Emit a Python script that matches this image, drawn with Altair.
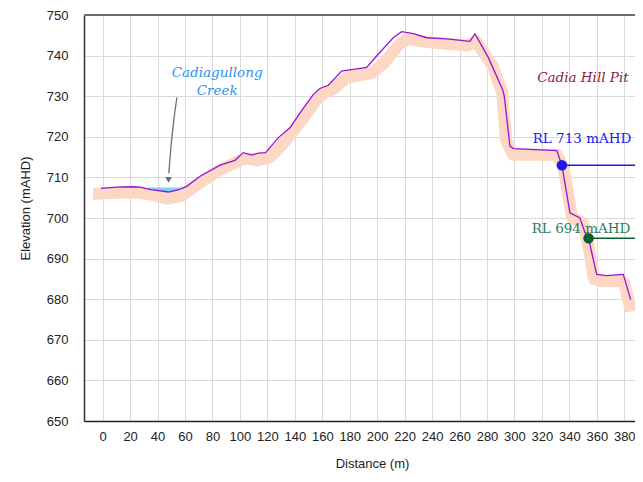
import altair as alt
import pandas as pd

# ---- data ----
dist = [-1.2, 10, 22.3, 27.2, 35, 47.8, 55, 61.2, 71, 85.6, 96.4, 102.4, 108.6, 113.4,
        118.7, 128, 136.5, 143.8, 153.4, 158.3, 164.4, 174.1, 182.6, 192.3, 199.6, 211.7,
        217.8, 226.3, 236, 250.6, 267.6, 271.2, 281, 291.4, 292.6, 296.7, 299.2, 330.8,
        334.6, 340.4, 347.7, 351.4, 354, 359.9, 367.2, 379.3, 384.7]
elev = [707.3, 707.6, 707.7, 707.6, 707.0, 706.4, 706.9, 707.8, 710.3, 713.0, 714.2, 716.1,
        715.5, 716.0, 716.1, 719.8, 722.2, 725.9, 730.4, 731.9, 732.7, 736.2, 736.6, 737.1,
        739.9, 744.4, 745.9, 745.4, 744.4, 744.1, 743.5, 745.4, 739.5, 731.6, 730.0, 717.7,
        717.1, 716.6, 713.0, 701.3, 700.0, 696.4, 695.0, 686.1, 685.8, 686.1, 679.9]

band_dist = [-7, 10, 25, 35, 47, 58, 68, 85, 100, 106, 112, 122, 132, 146, 156, 162, 168,
             178, 196, 206, 216, 222, 240, 266, 272, 284, 291, 294, 299, 331, 336, 342,
             350, 354, 358, 362, 376, 380, 385]
band_elev = [706, 706.2, 706.3, 705.8, 704.8, 705.5, 708, 711.8, 714.2, 714.6, 714.2, 715,
             718.5, 724.5, 729.3, 730.8, 731.8, 734.6, 735.7, 738.5, 742.8, 744, 743.2,
             742.5, 743.5, 737.5, 731, 719, 715.6, 715.6, 712, 700, 698.8, 693, 685,
             684.5, 684.5, 684, 677]

water_dist = [33, 40, 47.8, 55, 60.5]
water_bed = [707.2, 706.8, 706.4, 706.9, 707.4]
water_level = [707.5, 707.5, 707.5, 707.5, 707.5]

arrow_dist = [54.1, 51.8, 49.6, 48.2]
arrow_elev = [729.7, 724.0, 717.0, 711.0]
arrow_tip_dist = [48.0]
arrow_tip_elev = [709.4]

rl_labels = ["RL 713 mAHD", "RL 694 mAHD"]
rl_dist = [334.6, 354.0]
rl_elev = [713.0, 695.0]
rl_end = [400, 400]
rl_label_dist = [349.2, 348.5]
rl_label_elev = [719.4, 697.3]
rl_colors = ["#1a1af0", "#0b5e2e"]
rl_text_colors = ["#2020f0", "#2e7d4f"]

creek_text = ["Cadiagullong", "Creek"]
creek_dist = [83.4, 83.4]
creek_elev = [735.8, 731.2]

pit_text = ["Cadia Hill Pit"]
pit_dist = [349.9]
pit_elev = [734.4]

x_ticks = list(range(0, 381, 20))
y_ticks = list(range(650, 751, 10))

# ---- chart ----
W, H = 551, 406
X_MIN = -13.6
X_MAX = X_MIN + W / 1.3726
xs = alt.Scale(domain=[X_MIN, X_MAX], nice=False, zero=False)
ys = alt.Scale(domain=[650, 750], nice=False, zero=False)

x_axis = alt.Axis(values=x_ticks, format="d", title="Distance (m)", grid=True,
                  ticks=False, labelPadding=9, labelFontSize=13, labelColor="#222",
                  labelFont="Liberation Sans", titleFont="Liberation Sans",
                  titleFontSize=13, titleFontWeight="normal", titleColor="#222",
                  titleX=288, titleY=42, titleBaseline="middle", titleAlign="center",
                  titleAnchor="start",
                  domainColor="#222", domainWidth=1.5, gridColor="#dadada",
                  labelFlush=False, labelOverlap=False)
y_axis = alt.Axis(values=y_ticks, format="d", title="Elevation (mAHD)", grid=True,
                  ticks=False, labelPadding=16, labelFontSize=13, labelColor="#222",
                  labelFont="Liberation Sans", titleFont="Liberation Sans",
                  titleFontSize=13, titleFontWeight="normal", titleColor="#222",
                  titleAngle=270, titleX=-59, titleY=193, titleBaseline="middle",
                  titleAlign="center", titleAnchor="start",
                  domainColor="#333", domainWidth=1.5, gridColor="#dadada",
                  labelFlush=False, labelOverlap=False)

X = alt.X("d:Q", scale=xs, axis=x_axis)
Y = alt.Y("e:Q", scale=ys, axis=y_axis)

band_df = pd.DataFrame({"d": band_dist, "e": band_elev})
prof_df = pd.DataFrame({"d": dist, "e": elev})
water_df = pd.DataFrame({"d": water_dist, "e": water_bed, "e2": water_level})
arrow_df = pd.DataFrame({"d": arrow_dist, "e": arrow_elev})
tip_df = pd.DataFrame({"d": arrow_tip_dist, "e": arrow_tip_elev})
rl_df = pd.DataFrame({"d": rl_dist, "e": rl_elev, "d2": rl_end, "c": rl_colors,
                      "lab": rl_labels, "ld": rl_label_dist, "le": rl_label_elev,
                      "tc": rl_text_colors})
creek_df = pd.DataFrame({"d": creek_dist, "e": creek_elev, "t": creek_text})
pit_df = pd.DataFrame({"d": pit_dist, "e": pit_elev, "t": pit_text})
frame_df = pd.DataFrame({"d": [X_MIN], "d2": [X_MAX], "e": [750]})

frame = alt.Chart(frame_df).mark_rule(color="#6e6e6e", strokeWidth=2).encode(
    x=X, x2="d2:Q", y=Y)

band = alt.Chart(band_df).mark_line(color="#fcd7c4", strokeWidth=12, strokeJoin="round",
                                    strokeCap="butt").encode(x=X, y=Y, order="d:Q")

water = alt.Chart(water_df).mark_area(color="#6fcdf2", opacity=0.9).encode(
    x=X, y=Y, y2="e2:Q")

prof = alt.Chart(prof_df).mark_line(color="#9a12d6", strokeWidth=1.3).encode(
    x=X, y=Y, order="d:Q")

arrow = alt.Chart(arrow_df).mark_line(color="#6f6f6f", strokeWidth=1.3,
                                      interpolate="monotone").encode(x=X, y=Y)
tip = alt.Chart(tip_df).mark_point(shape="triangle-down", filled=True, color="#6f6f6f",
                                   size=45, opacity=1).encode(x=X, y=Y)

rl_lines = alt.Chart(rl_df).mark_rule(strokeWidth=1.6, clip=True).encode(
    x=X, x2="d2:Q", y=Y, color=alt.Color("c:N", scale=None))
rl_pts = alt.Chart(rl_df).mark_circle(size=110, opacity=1).encode(
    x=X, y=Y, color=alt.Color("c:N", scale=None))
rl_text = alt.Chart(rl_df).mark_text(font="DejaVu Serif", fontSize=13.5, align="center",
                                     baseline="middle").encode(
    x=alt.X("ld:Q", scale=xs, axis=x_axis), y=alt.Y("le:Q", scale=ys, axis=y_axis),
    text="lab:N", color=alt.Color("tc:N", scale=None))

creek = alt.Chart(creek_df).mark_text(font="DejaVu Serif", fontStyle="italic",
                                      fontSize=13.5, color="#2a93f0", align="center",
                                      baseline="middle").encode(x=X, y=Y, text="t:N")
pit = alt.Chart(pit_df).mark_text(font="DejaVu Serif", fontStyle="italic", fontSize=13.5,
                                  color="#8b1c3d", align="center",
                                  baseline="middle").encode(x=X, y=Y, text="t:N")

chart = alt.layer(frame, band, water, prof, arrow, tip, rl_lines, rl_pts, rl_text,
                  creek, pit).properties(
    width=W, height=H,
    autosize=alt.AutoSizeParams(type="none"),
    padding={"left": 76, "top": 7, "right": 0, "bottom": 50},
).configure_view(stroke=None).configure(background="white")

chart.save("out.html", embed_options={"renderer": "svg", "actions": False})
